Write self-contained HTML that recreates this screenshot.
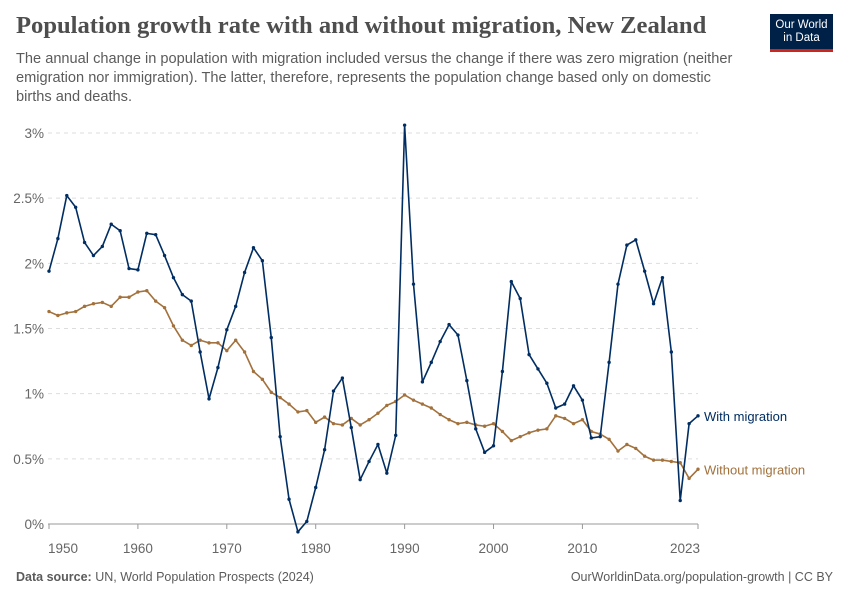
<!DOCTYPE html>
<html><head><meta charset="utf-8">
<style>
body{margin:0;background:#fff;font-family:"Liberation Sans",sans-serif;}
#wrap{position:relative;width:850px;height:600px;overflow:hidden;}
.title{position:absolute;left:16px;top:12px;font-family:"Liberation Serif",serif;font-size:24.6px;font-weight:bold;color:#4e4e4e;}
.sub{position:absolute;left:16px;top:50px;width:730px;font-size:14.6px;line-height:19px;color:#5b5b5b;}
.logo{position:absolute;left:770px;top:14px;width:63px;height:38px;background:#002147;border-bottom:3px solid #ce261e;color:#fff;font-size:11.5px;line-height:13px;text-align:center;padding-top:5px;box-sizing:border-box;}
.foot{position:absolute;top:570px;font-size:12.5px;color:#5b5b5b;}
</style></head><body>
<div id="wrap">
<div class="title">Population growth rate with and without migration, New Zealand</div>
<div class="sub">The annual change in population with migration included versus the change if there was zero migration (neither emigration nor immigration). The latter, therefore, represents the population change based only on domestic births and deaths.</div>
<div class="logo">Our World<br>in Data</div>
<svg id="plot" width="850" height="600" style="position:absolute;left:0;top:0"></svg>
<div class="foot" style="left:16px"><b>Data source:</b> UN, World Population Prospects (2024)</div>
<div class="foot" style="right:17px">OurWorldinData.org/population-growth | CC BY</div>
</div>
<script>
const years=[];for(let y=1950;y<=2023;y++)years.push(y);
const withMigration=[1.94,2.19,2.52,2.43,2.16,2.06,2.13,2.30,2.25,1.96,
1.95,2.23,2.22,2.06,1.89,1.76,1.71,1.32,0.96,1.20,
1.49,1.67,1.93,2.12,2.02,1.43,0.67,0.19,-0.06,0.02,
0.28,0.57,1.02,1.12,0.74,0.34,0.48,0.61,0.39,0.68,
3.06,1.84,1.09,1.24,1.40,1.53,1.45,1.10,0.73,0.55,
0.60,1.17,1.86,1.73,1.30,1.19,1.08,0.89,0.92,1.06,
0.95,0.66,0.67,1.24,1.84,2.14,2.18,1.94,1.69,1.89,
1.32,0.18,0.77,0.83];
const withoutMigration=[1.63,1.60,1.62,1.63,1.67,1.69,1.70,1.67,1.74,1.74,
1.78,1.79,1.71,1.66,1.52,1.41,1.37,1.41,1.39,1.39,
1.33,1.41,1.32,1.17,1.11,1.01,0.97,0.92,0.86,0.87,
0.78,0.82,0.77,0.76,0.81,0.76,0.80,0.85,0.91,0.94,
0.99,0.95,0.92,0.89,0.84,0.80,0.77,0.78,0.76,0.75,
0.77,0.71,0.64,0.67,0.70,0.72,0.73,0.83,0.81,0.77,
0.80,0.71,0.69,0.65,0.56,0.61,0.58,0.52,0.49,0.49,
0.48,0.47,0.35,0.42];
const yTicks=[0,0.5,1,1.5,2,2.5,3];
const yTickLabels=["0%","0.5%","1%","1.5%","2%","2.5%","3%"];
const xTicks=[1950,1960,1970,1980,1990,2000,2010,2023];
const seriesNames=["With migration","Without migration"];

const NS="http://www.w3.org/2000/svg";
const svg=document.getElementById('plot');
const X0=49,X1=698,Y0=524,Y3=133;
const x=v=>X0+(v-1950)/(2023-1950)*(X1-X0);
const y=v=>Y0+(v/3)*(Y3-Y0);
function mk(t,a){const e=document.createElementNS(NS,t);for(const k in a)e.setAttribute(k,a[k]);svg.appendChild(e);return e;}
yTicks.forEach((t,i)=>{
  if(t!==0){const g=mk('line',{x1:48,x2:698,y1:y(t),y2:y(t),stroke:'#ddd','stroke-dasharray':'4,4'});
  
  }
  const l=mk('text',{x:44,y:y(t)+5,'text-anchor':'end','font-size':'13.5','fill':'#666','font-family':'Liberation Sans'});
  l.textContent=yTickLabels[i];
  
  
});
const ax=mk('line',{x1:48,x2:698,y1:Y0,y2:Y0,stroke:'#999'});


xTicks.forEach(t=>{
  const tk=mk('line',{x1:x(t),x2:x(t),y1:Y0,y2:Y0+5,stroke:'#999'});
  
  
  const l=mk('text',{x:x(t),y:553,'text-anchor':t===1950?'start':(t===2023?'end':'middle'),'font-size':'13.5','fill':'#666','font-family':'Liberation Sans'});
  if(t===1950)l.setAttribute('x',x(t)-1);
  if(t===2023)l.setAttribute('x',x(t)+2);
  l.textContent=t;
  
  
});
function series(vals,col,name,labelDy){
  const p=mk('polyline',{points:vals.map((v,i)=>x(years[i])+','+y(v)).join(' '),fill:'none',stroke:col,'stroke-width':1.6,'stroke-linejoin':'round'});
  
  
  vals.forEach((v,i)=>{const c=mk('circle',{cx:x(years[i]),cy:y(v),r:1.7,fill:col});
    
    });
  const last=vals[vals.length-1];
  const t=mk('text',{x:X1+6,y:y(last)+5+labelDy,'font-size':'13','fill':col,'font-family':'Liberation Sans'});
  t.textContent=name;
  
  
}
series(withoutMigration,'#a2713c',seriesNames[1],0);
series(withMigration,'#002d62',seriesNames[0],0);
</script>
</body></html>
